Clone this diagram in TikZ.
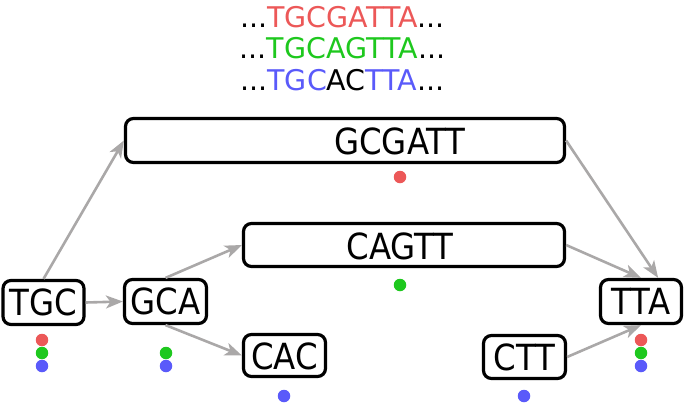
\documentclass[tikz,border=0pt]{standalone}
\usepackage{fontspec}
\setmainfont{DejaVu Sans}
\newfontfamily\boxfont[FakeStretch=0.9]{DejaVu Sans}
\usetikzlibrary{arrows.meta}
\definecolor{cred}{RGB}{236,88,88}
\definecolor{cgreen}{RGB}{30,200,30}
\definecolor{cblue}{RGB}{90,90,250}
\definecolor{carrow}{RGB}{170,168,168}
\tikzset{
  box/.style={draw=black, line width=3.2pt, rounded corners=8pt, inner sep=0pt, fill=white},
  lbl/.style={font=\boxfont\fontsize{36}{36}\selectfont, inner sep=0pt, anchor=center},
  seq/.style={font=\fontsize{28.5}{28.5}\selectfont, inner sep=0pt},
  conn/.style={draw=carrow, line width=2.6pt, -{Stealth[length=17pt,width=13pt,inset=4.5pt]}},
  dot/.style={circle, inner sep=0pt, minimum size=12.5pt}
}
\begin{document}
\begin{tikzpicture}[x=1pt,y=-1pt]
\useasboundingbox (0,0) rectangle (685,402);
% sequences
\node[seq] (s1) at (342.5,17) {...\textcolor{cred}{TGCGATTA}...};
\node[seq] (s2) at (342.5,48) {...\textcolor{cgreen}{TGCAGTTA}...};
\node[seq] (s3) at (342.5,80) {...\textcolor{cblue}{TGC}AC\textcolor{cblue}{TTA}...};
% boxes
\node[box, minimum width=439pt, minimum height=44pt] (big1) at (345,140.5) {};
\node[lbl] (t1) at (400,141) {GCGATT};
\node[box, minimum width=321pt, minimum height=43pt] (big2) at (404,245) {};
\node[lbl] (t2) at (400,246) {CAGTT};
\node[box, minimum width=81pt, minimum height=44pt] (tgc) at (43.5,302.5) {};
\node[lbl] (t3) at (43.5,302.5) {TGC};
\node[box, minimum width=82pt, minimum height=44pt] (gca) at (165.5,301.5) {};
\node[lbl] (t4) at (165.5,301.5) {GCA};
\node[box, minimum width=82pt, minimum height=42pt] (cac) at (284.5,355.5) {};
\node[lbl] (t5) at (284.5,356) {CAC};
\node[box, minimum width=82pt, minimum height=43pt] (ctt) at (524.5,357) {};
\node[lbl] (t6) at (524.5,357) {CTT};
\node[box, minimum width=81pt, minimum height=44pt] (tta) at (641,301.5) {};
\node[lbl] (t7) at (641,301.5) {TTA};
% connectors
\draw[conn] (tgc.north) -- (big1.west);
\draw[conn] (tgc.east) -- (gca.west);
\draw[conn] (gca.north) -- (big2.west);
\draw[conn] (gca.south) -- (cac.west);
\draw[conn] (big1.east) -- (tta.54);
\draw[conn] (big2.east) -- (tta.north);
\draw[conn] (ctt.east) -- (tta.south);
% dots
\node[dot, fill=cred] (d1) at (400,177) {};
\node[dot, fill=cgreen] (d2) at (400,285) {};
\node[dot, fill=cred] (d3) at (42,340) {};
\node[dot, fill=cgreen] (d4) at (42,353) {};
\node[dot, fill=cblue] (d5) at (42,366) {};
\node[dot, fill=cgreen] (d6) at (166,353) {};
\node[dot, fill=cblue] (d7) at (166,366) {};
\node[dot, fill=cblue] (d8) at (284,396) {};
\node[dot, fill=cblue] (d9) at (524,396) {};
\node[dot, fill=cred] (d10) at (641,340) {};
\node[dot, fill=cgreen] (d11) at (641,353) {};
\node[dot, fill=cblue] (d12) at (641,366) {};
\end{tikzpicture}
\end{document}
